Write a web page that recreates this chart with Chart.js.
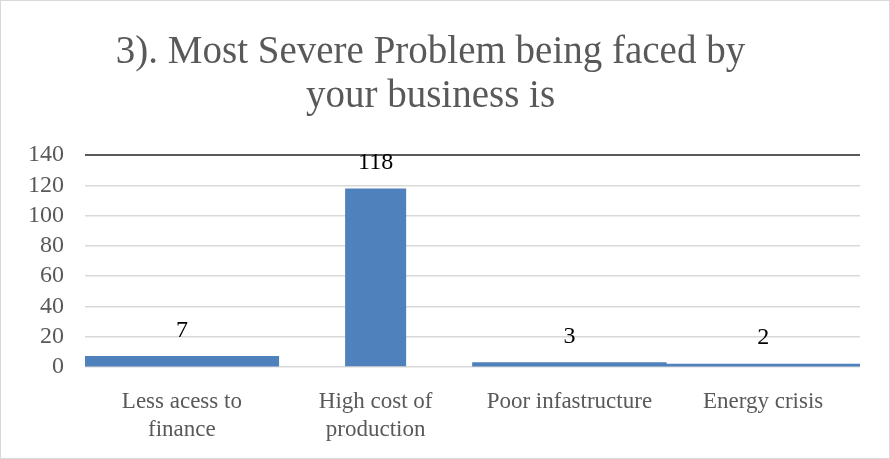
<!DOCTYPE html>
<html>
<head>
<meta charset="utf-8">
<script src="https://cdn.jsdelivr.net/npm/chart.js@4/dist/chart.umd.min.js"></script>
<style>
  html, body { margin: 0; padding: 0; background: #fff; }
  #frame {
    width: 890px; height: 459px; box-sizing: border-box;
    border: 1px solid #d9d9d9; background: #fff;
  }
  canvas { display: block; }
</style>
</head>
<body>
<div id="frame"><canvas id="problems" width="888" height="457"></canvas></div>
<script>
// Survey question 3: most severe problem faced by the business
const categories = [
  ['Less acess to', 'finance'],
  ['High cost of', 'production'],
  'Poor infastructure',
  'Energy crisis'
];
const responses = [7, 118, 3, 2];
const yTicks = [0, 20, 40, 60, 80, 100, 120, 140];

const SERIF = '"Liberation Serif", "Times New Roman", serif';
const BLUE = '#4f81bd';
const GREY_TEXT = '#595959';

// the leading problem is drawn as a narrow column, the rest as wide low bands
const topIndex = responses.indexOf(Math.max(...responses));
const leadValues = responses.map((v, i) => (i === topIndex ? v : null));
const otherValues = responses.map((v, i) => (i === topIndex ? null : v));

// value labels above each bar
const valueLabels = {
  id: 'valueLabels',
  afterDatasetsDraw(chart) {
    const ctx = chart.ctx;
    ctx.save();
    ctx.font = '24px ' + SERIF;
    ctx.fillStyle = '#000';
    ctx.textAlign = 'center';
    ctx.textBaseline = 'middle';
    chart.data.datasets.forEach((ds, di) => {
      chart.getDatasetMeta(di).data.forEach((bar, i) => {
        const v = ds.data[i];
        if (v === null) return;
        ctx.fillText(String(v), bar.x, bar.y - 26);
      });
    });
    ctx.restore();
  }
};

new Chart(document.getElementById('problems'), {
  type: 'bar',
  data: {
    labels: categories,
    datasets: [
      {
        data: leadValues,
        backgroundColor: BLUE,
        categoryPercentage: 1,
        barPercentage: 0.315
      },
      {
        data: otherValues,
        backgroundColor: BLUE,
        categoryPercentage: 1,
        barPercentage: 1
      }
    ]
  },
  options: {
    responsive: false,
    animation: false,
    layout: { padding: { left: 0, right: 29, top: 0, bottom: 0 } },
    datasets: { bar: { grouped: false } },
    plugins: {
      legend: { display: false },
      tooltip: { enabled: false },
      title: {
        display: true,
        text: ['3). Most Severe Problem being faced by', 'your business is'],
        color: GREY_TEXT,
        font: { family: SERIF, size: 39, weight: 'normal', lineHeight: 1.13 },
        padding: { top: 30, bottom: 36 }
      }
    },
    scales: {
      x: {
        grid: { display: false },
        border: { display: false },
        ticks: {
          color: GREY_TEXT,
          font: { family: SERIF, size: 23, lineHeight: 1.23 },
          padding: 13,
          maxRotation: 0,
          autoSkip: false
        },
        afterFit(scale) { scale.height = 91; }
      },
      y: {
        min: 0,
        max: 140,
        afterBuildTicks(scale) { scale.ticks = yTicks.map(v => ({ value: v })); },
        border: { display: false },
        grid: {
          color: ctx => (ctx.tick && ctx.tick.value === 140 ? '#595959' : '#d9d9d9'),
          lineWidth: ctx => (ctx.tick && ctx.tick.value === 140 ? 2 : 1.5),
          drawTicks: false
        },
        ticks: {
          color: GREY_TEXT,
          font: { family: SERIF, size: 24 },
          padding: 21,
          autoSkip: false
        },
        afterFit(scale) { scale.width = 84; }
      }
    }
  },
  plugins: [valueLabels]
});
</script>
</body>
</html>
